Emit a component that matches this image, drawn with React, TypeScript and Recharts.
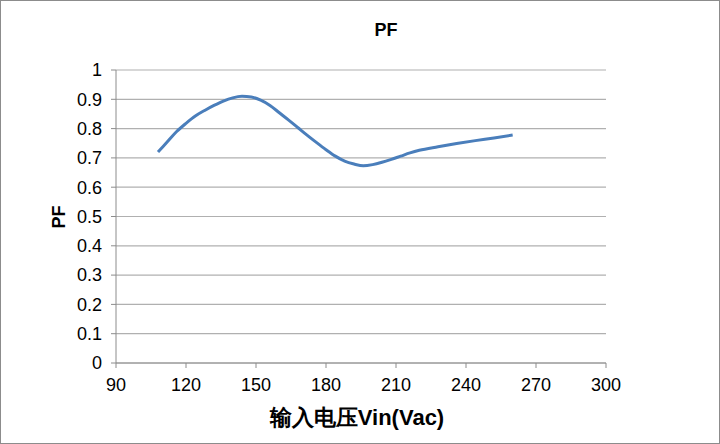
import { LineChart, Line, XAxis, YAxis, CartesianGrid } from "recharts";

const voltages = [108, 112, 116, 120, 124, 128, 132, 136, 140, 144, 148, 152, 156, 160, 164, 168, 172, 176, 180, 184, 188, 192, 196, 200, 204, 208, 212, 216, 220, 228, 236, 244, 252, 260];
const pfValues = [0.72, 0.755, 0.79, 0.818, 0.843, 0.862, 0.879, 0.894, 0.905, 0.91, 0.908, 0.897, 0.879, 0.854, 0.829, 0.803, 0.777, 0.752, 0.728, 0.706, 0.689, 0.679, 0.673, 0.677, 0.685, 0.695, 0.706, 0.717, 0.726, 0.738, 0.749, 0.759, 0.768, 0.778];
const xTicks = [90, 120, 150, 180, 210, 240, 270, 300];
const yTicks = [0, 0.1, 0.2, 0.3, 0.4, 0.5, 0.6, 0.7, 0.8, 0.9, 1];

const data = voltages.map((v, i) => ({ vin: v, pf: pfValues[i] }));

const font = '"Liberation Sans", Arial, sans-serif';
const axisGray = "#8c8c8c";

const App = () => {
  return (
    <div
      style={{
        position: "fixed",
        left: 0,
        top: 0,
        width: 720,
        height: 444,
        boxSizing: "border-box",
        border: "1px solid #8c8c8c",
        background: "#fff",
        fontFamily: font,
      }}
    >
      <div
        style={{
          position: "absolute",
          left: 335,
          width: 100,
          top: 19,
          textAlign: "center",
          fontSize: 18,
          fontWeight: "bold",
          color: "#000",
        }}
      >
        PF
      </div>
      <div style={{ position: "absolute", left: -1, top: -1 }}>
        <LineChart width={720} height={444} data={data} margin={{ top: 70, right: 114, bottom: 0, left: 56 }}>
          <CartesianGrid horizontal vertical={false} stroke="#b0b0b0" strokeWidth={1.2} />
          <XAxis
            dataKey="vin"
            type="number"
            domain={[90, 300]}
            ticks={xTicks}
            height={81}
            interval={0}
            stroke={axisGray}
            tickSize={5}
            tickMargin={10}
            tick={{ fill: "#000", fontSize: 18, fontFamily: font }}
            label={{
              value: "输入电压Vin(Vac)",
              position: "insideBottom",
              offset: 19,
              dx: -4,
              style: { fill: "#000", fontSize: 22, fontWeight: "bold", fontFamily: font },
            }}
          />
          <YAxis
            type="number"
            domain={[0, 1]}
            ticks={yTicks}
            width={60}
            interval={0}
            stroke={axisGray}
            tickSize={5}
            tickMargin={9}
            tickFormatter={(v: number) => String(Math.round(v * 10) / 10)}
            tick={{ fill: "#000", fontSize: 18, fontFamily: font }}
            label={{
              content: () => (
                <text
                  x={59}
                  y={217}
                  transform="rotate(-90 59 217)"
                  textAnchor="middle"
                  dominantBaseline="central"
                  style={{ fill: "#000", fontSize: 18, fontWeight: "bold", fontFamily: font }}
                >
                  PF
                </text>
              ),
            }}
          />
          <Line
            type="monotoneX"
            dataKey="pf"
            stroke="#4a7ebb"
            strokeWidth={3}
            dot={false}
            isAnimationActive={false}
          />
        </LineChart>
      </div>
    </div>
  );
};

export default App;
